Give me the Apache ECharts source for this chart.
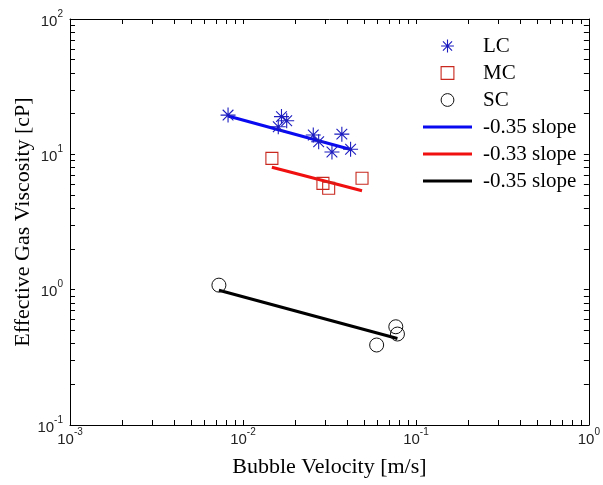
<!DOCTYPE html>
<html>
<head>
<meta charset="utf-8">
<script src="https://cdn.jsdelivr.net/npm/echarts@6/dist/echarts.min.js"></script>
<style>
  html, body { margin: 0; padding: 0; background: #fff; }
  #chart { width: 603px; height: 485px; }
</style>
</head>
<body>
<div id="chart"></div>
<script>
// LC - blue stars
const lcVelocity = [0.0082, 0.0160, 0.0167, 0.0179, 0.0255, 0.0274, 0.0327, 0.0373, 0.0419];
const lcViscosity = [19.5, 16.0, 19.0, 17.7, 13.9, 12.4, 10.4, 14.1, 10.9];
// MC - red squares
const mcVelocity = [0.0147, 0.0290, 0.0313, 0.0488];
const mcViscosity = [9.34, 6.10, 5.61, 6.65];
// SC - black circles
const scVelocity = [0.00726, 0.0765, 0.0782, 0.0593];
const scViscosity = [1.08, 0.532, 0.470, 0.390];
// fitted power-law lines (end points)
const lcFitVelocity = [0.0082, 0.0425];
const lcFitViscosity = [19.2, 10.8];
const mcFitVelocity = [0.0147, 0.0488];
const mcFitViscosity = [8.02, 5.38];
const scFitVelocity = [0.00726, 0.0782];
const scFitViscosity = [0.99, 0.436];

const xDecades = [-3, -2, -1];
const yDecades = [-1, 0, 1];
const legendNames = ['LC', 'MC', 'SC', '-0.35 slope', '-0.33 slope', '-0.35 slope '];

const SERIF = '"Liberation Serif", "Times New Roman", serif';
const SANS = '"Liberation Sans", Arial, sans-serif';
const STAR = 'path://M8,0L8,16M0,8L16,8M2.3,2.3L13.7,13.7M2.3,13.7L13.7,2.3';
const LINE_ICON = 'path://M0,0L48,0L48,3L0,3Z';

function logTicks(decades) {
  const ticks = [];
  decades.forEach((d) => {
    for (let k = 1; k <= 9; k++) ticks.push(+(k * Math.pow(10, d)).toPrecision(3));
  });
  ticks.push(Math.pow(10, decades[decades.length - 1] + 1));
  return ticks;
}

function pairs(xs, ys) {
  return xs.map((x, i) => [x, ys[i]]);
}

const tickLabel = {
  fontFamily: SANS,
  color: '#222',
  formatter: (value) => `{b|10}{s|${Math.round(Math.log10(value))}}`,
  rich: {
    b: { fontFamily: SANS, fontSize: 15, lineHeight: 20, verticalAlign: 'bottom', color: '#222' },
    s: { fontFamily: SANS, fontSize: 10, lineHeight: 20, verticalAlign: 'top', color: '#222' },
  },
};

function makeAxis(ticks, min, max, position, main, extra) {
  return Object.assign({
    type: 'log',
    logBase: 10,
    min,
    max,
    position,
    axisLine: { show: true, onZero: false, lineStyle: { color: '#000', width: 1 } },
    axisTick: { show: true, inside: true, length: 5, customValues: ticks, lineStyle: { color: '#000' } },
    axisLabel: main ? tickLabel : { show: false },
    splitLine: { show: false },
  }, extra || {});
}

const chart = echarts.init(document.getElementById('chart'));

const markerSeries = (name, xs, ys, symbol, size, color, width) => ({
  name,
  type: 'line',
  data: pairs(xs, ys),
  symbol,
  symbolSize: size,
  showSymbol: true,
  lineStyle: { color: 'transparent', width: 0 },
  itemStyle: { color: 'transparent', borderColor: color, borderWidth: width },
  z: 3,
});

const fitSeries = (name, xs, ys, color) => ({
  name,
  type: 'line',
  data: pairs(xs, ys),
  symbol: 'none',
  color,
  lineStyle: { color, width: 3 },
  itemStyle: { color },
  z: 2,
});

chart.setOption({
  animation: false,
  backgroundColor: '#fff',
  grid: { left: 70, right: 10, top: 19, bottom: 60 },
  xAxis: [
    makeAxis(logTicks(xDecades), 0.001, 1, 'bottom', true, {
      name: 'Bubble Velocity [m/s]',
      nameLocation: 'middle',
      nameGap: 31,
      nameTextStyle: { fontFamily: SERIF, fontSize: 22, color: '#000' },
      axisLabel: Object.assign({}, tickLabel, { margin: 2 }),
    }),
    makeAxis(logTicks(xDecades), 0.001, 1, 'top', false),
  ],
  yAxis: [
    makeAxis(logTicks(yDecades), 0.1, 100, 'left', true, {
      name: 'Effective Gas Viscosity [cP]',
      nameLocation: 'middle',
      nameGap: 36,
      nameMoveOverlap: false,
      nameTextStyle: { fontFamily: SERIF, fontSize: 22, color: '#000' },
      axisLabel: Object.assign({}, tickLabel, { margin: 7 }),
    }),
    makeAxis(logTicks(yDecades), 0.1, 100, 'right', false),
  ],
  legend: {
    orient: 'vertical',
    left: 423,
    top: 35,
    padding: 0,
    itemWidth: 49,
    itemHeight: 16,
    itemGap: 5,
    selectedMode: false,
    formatter: (name) => name.trim(),
    textStyle: { fontFamily: SERIF, fontSize: 21, color: '#000', lineHeight: 22, padding: [0, 0, 0, 6] },
    data: [
      { name: legendNames[0], itemStyle: { borderWidth: 1.1 } },
      { name: legendNames[1], itemStyle: { borderWidth: 1.1 } },
      { name: legendNames[2], itemStyle: { borderWidth: 1 } },
      { name: legendNames[3], icon: LINE_ICON },
      { name: legendNames[4], icon: LINE_ICON },
      { name: legendNames[5], icon: LINE_ICON },
    ],
  },
  series: [
    markerSeries(legendNames[0], lcVelocity, lcViscosity, STAR, 15, '#1c1cc0', 1.1),
    markerSeries(legendNames[1], mcVelocity, mcViscosity, 'rect', 12, '#c8281e', 1.1),
    markerSeries(legendNames[2], scVelocity, scViscosity, 'circle', 14, '#111', 1),
    fitSeries(legendNames[3], lcFitVelocity, lcFitViscosity, '#0a0af0'),
    fitSeries(legendNames[4], mcFitVelocity, mcFitViscosity, '#f01010'),
    fitSeries(legendNames[5], scFitVelocity, scFitViscosity, '#000'),
  ],
});
</script>
</body>
</html>
